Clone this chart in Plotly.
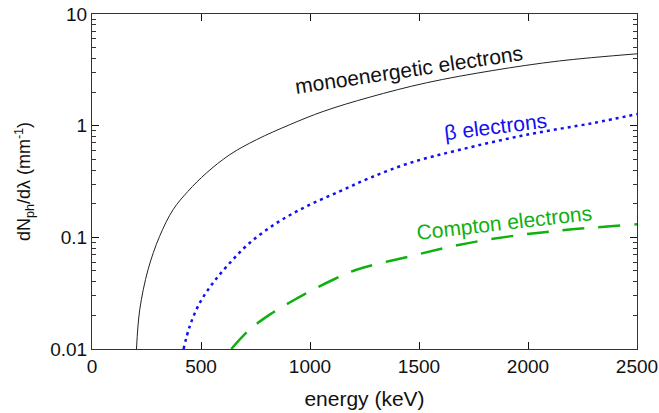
import plotly.graph_objects as go

# energy (keV) and dN/dlambda (mm^-1)
mono_e = [204, 219, 257, 310, 372, 440, 525, 632, 754, 907, 1060, 1274, 1534, 1839, 2145, 2500]
mono_y = [0.0100, 0.0225, 0.0513, 0.102, 0.177, 0.258, 0.377, 0.55, 0.748, 1.02, 1.34, 1.80, 2.42, 3.12, 3.80, 4.40]

beta_e = [420, 448, 494, 555, 632, 723, 846, 983, 1136, 1274, 1457, 1687, 1993, 2298, 2500]
beta_y = [0.0100, 0.0159, 0.0258, 0.039, 0.0589, 0.089, 0.134, 0.189, 0.258, 0.34, 0.463, 0.608, 0.829, 1.055, 1.27]

comp_e = [639, 723, 815, 907, 999, 1106, 1213, 1457, 1687, 1916, 2145, 2500]
comp_y = [0.0100, 0.0149, 0.0203, 0.0261, 0.0328, 0.0417, 0.0513, 0.0675, 0.0859, 0.102, 0.115, 0.131]

x_ticks = [0, 500, 1000, 1500, 2000, 2500]
y_tickvals = [0.01, 0.1, 1, 10]
y_ticktext = ["0.01", "0.1", "1", "10"]

FONT = "Liberation Sans, Arial, sans-serif"

fig = go.Figure()
fig.add_trace(go.Scatter(x=mono_e, y=mono_y, mode="lines",
                         line=dict(color="#222222", width=1, shape="spline")))
fig.add_trace(go.Scatter(x=beta_e, y=beta_y, mode="lines",
                         line=dict(color="#1010f0", width=2.5, dash="3px,4px", shape="spline")))
fig.add_trace(go.Scatter(x=comp_e, y=comp_y, mode="lines",
                         line=dict(color="#10b010", width=2.5, dash="22px,14px", shape="spline")))

L, R, T, B = 92, 637, 14, 349
def px(xp):
    return (xp - L) / (R - L)
def py(yp):
    return (B - yp) / (B - T)

common = dict(xref="paper", yref="paper", showarrow=False, xanchor="center", yanchor="middle")
fig.add_annotation(text="monoenergetic electrons", x=px(409), y=py(70),
                   textangle=-8.5, font=dict(family=FONT, size=21, color="#111111"), **common)
fig.add_annotation(text="β electrons", x=px(495), y=py(126),
                   textangle=-7, font=dict(family=FONT, size=21, color="#1010f0"), **common)
fig.add_annotation(text="Compton electrons", x=px(504), y=py(222),
                   textangle=-6.5, font=dict(family=FONT, size=21, color="#10b010"), **common)

fig.update_layout(
    width=659, height=413,
    margin=dict(l=L, r=659 - R, t=T, b=413 - B),
    paper_bgcolor="white", plot_bgcolor="white",
    showlegend=False,
    font=dict(family=FONT, size=19, color="#111111"),
)
fig.update_xaxes(range=[0, 2500], tickvals=x_ticks, ticks="inside", ticklen=7,
                 tickcolor="#111111", showline=True, linecolor="#333333", linewidth=1,
                 mirror="ticks", showgrid=False, zeroline=False, automargin=False,
                 tickfont=dict(size=19),
                 title=dict(text="energy (keV)", standoff=15, font=dict(size=21)))
fig.update_yaxes(type="log", range=[-2, 1], tickvals=y_tickvals, ticktext=y_ticktext,
                 ticks="inside", ticklen=7, tickcolor="#111111",
                 minor=dict(ticks="inside", ticklen=4, tickcolor="#333333", dtick="D1", showgrid=False),
                 showline=True, linecolor="#333333", linewidth=1, mirror="ticks",
                 showgrid=False, zeroline=False, automargin=False,
                 tickfont=dict(size=19),
                 title=dict(text="dN<sub>ph</sub>/dλ (mm<sup>-1</sup>)", standoff=14, font=dict(size=18)))

fig.write_html("out.html", post_script="document.body.style.margin='0';",
               config={"displayModeBar": False})
